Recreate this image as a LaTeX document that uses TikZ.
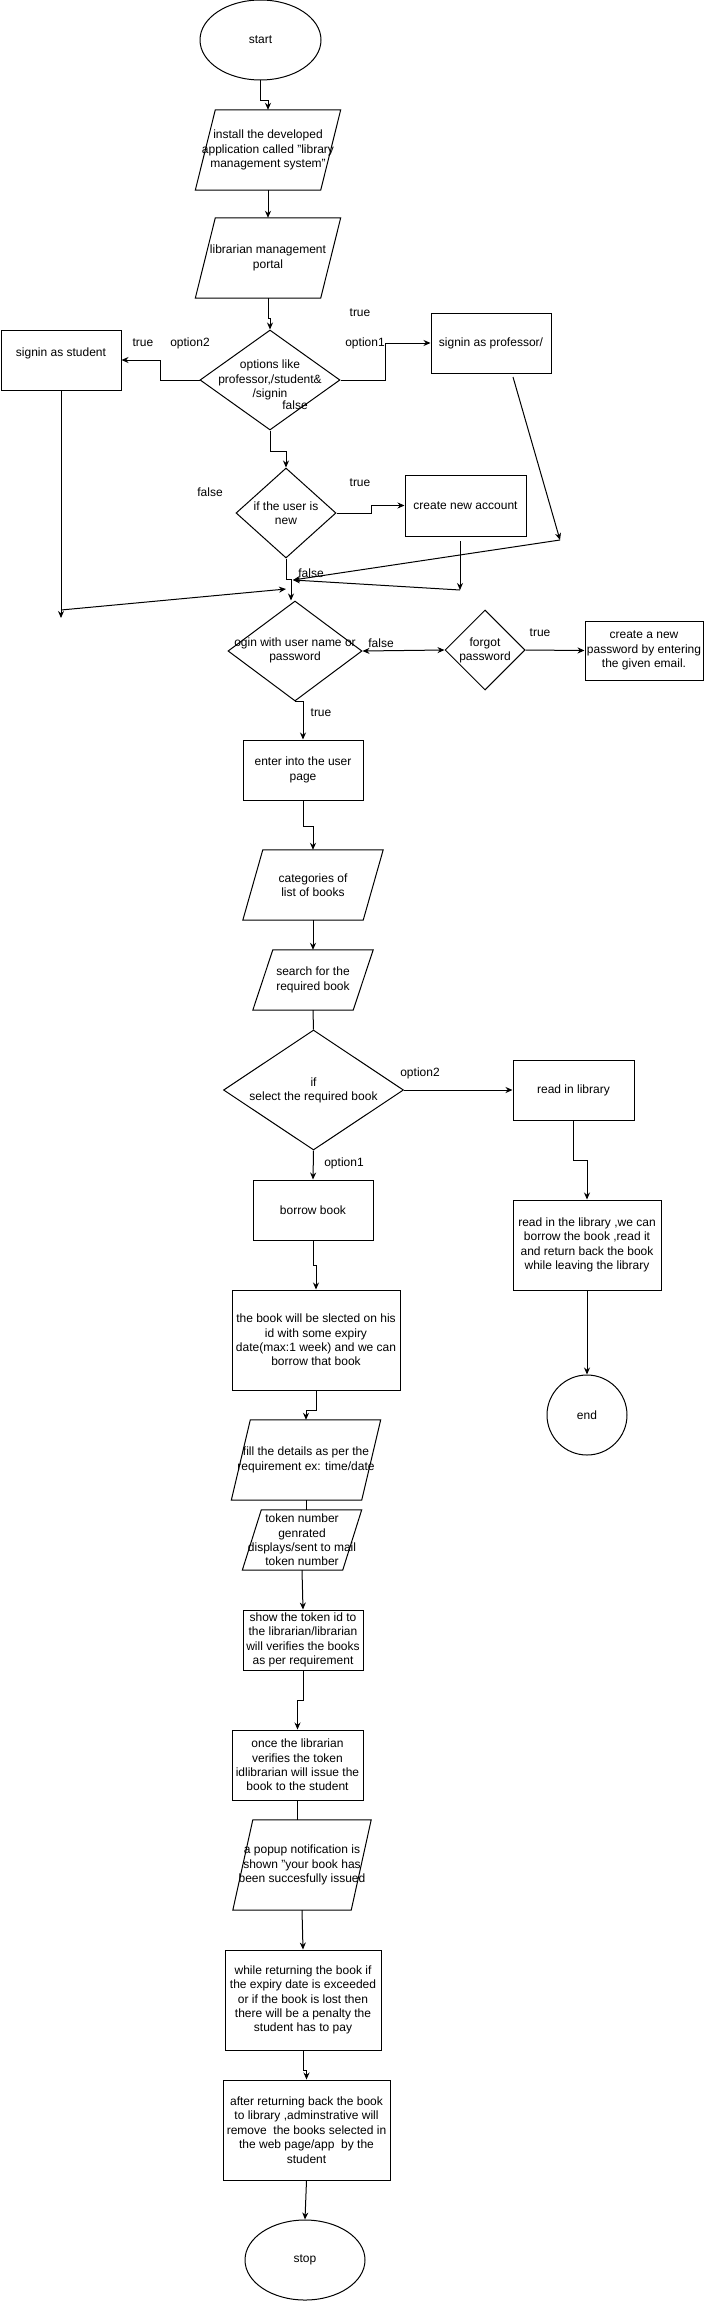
\documentclass[tikz,border=0pt]{standalone}
\usepackage{fontspec}
\setmainfont{Liberation Sans}
\usetikzlibrary{shapes.geometric,arrows.meta,calc}
\newcommand\myfs{\fontsize{12pt}{14.4pt}\selectfont}
\newcommand\mypara[6]{%
  \node[inner sep=0pt, minimum width=#4pt, minimum height=#5pt] (#1) at (#2,#3) {};
  \draw[line width=1pt, fill=white] ($(#1.north west)+(#6/2,0)$) -- ($(#1.north east)+(#6/2,0)$) -- ($(#1.south east)-(#6/2,0)$) -- ($(#1.south west)-(#6/2,0)$) -- cycle;
}
\begin{document}
\begin{tikzpicture}[x=1pt,y=-1pt,
  base/.style={draw, line width=1pt, inner sep=0pt, fill=white},
  box/.style={base, rectangle},
  ell/.style={base, ellipse},
  dia/.style={base, diamond},
  txt/.style={inner sep=0pt, align=center, font=\myfs},
  arr/.style={-{Stealth[length=7pt,width=6pt]}, line width=1pt},
  dbl/.style={{Stealth[length=7pt,width=6pt]}-{Stealth[length=7pt,width=6pt]}, line width=1pt},
  ln/.style={line width=1pt}]
\useasboundingbox (0,0) rectangle (706,2301);
\fill[white] (0,0) rectangle (706,2301);

% ---------- shapes ----------
\node[ell, minimum width=121pt, minimum height=80pt] (start) at (260.5,40) {};
\node[txt] (startt) at (start) {start};

\mypara{install}{268}{150}{125}{80}{20}
\node[txt] (installt) at (install) {install the developed\\application called "library\\management system"};

\mypara{portal}{268}{258}{125}{80}{20}
\node[txt] (portalt) at (portal) {librarian management\\portal};

\node[dia, minimum width=140pt, minimum height=100pt] (options) at (270,380) {};
\node[txt] (optionst) at (options) {options like\\professor,/student\&\\/signin};

\node[box, minimum width=120pt, minimum height=60pt] (student) at (61,360) {};
\node[txt] (studentt) at (61,353) {signin as student};

\node[box, minimum width=120pt, minimum height=60pt] (prof) at (491,343) {};
\node[txt] (proft) at (prof) {signin as professor/};

\node[dia, minimum width=100pt, minimum height=90pt] (newuser) at (286,513) {};
\node[txt] (newusert) at (newuser) {if the user is\\new};

\node[box, minimum width=121pt, minimum height=61pt] (create) at (465.5,505.5) {};
\node[txt] (createt) at (create) {create new account};

\node[dia, minimum width=134pt, minimum height=100pt] (login) at (295,651) {};
\node[txt] (logint) at (295,650.5) {ogin with user name or\\password};

\node[dia, minimum width=80pt, minimum height=80pt] (forgot) at (485,650) {};
\node[txt] (forgott) at (485,650.5) {forgot\\password};

\node[box, minimum width=118pt, minimum height=59pt] (newpass) at (644,650.5) {};
\node[txt] (newpasst) at (newpass) {create a new\\password by entering\\the given email.};

\node[box, minimum width=120pt, minimum height=60pt] (enter) at (303,770) {};
\node[txt] (entert) at (enter) {enter into the user\\page};

\mypara{cat}{313}{885}{120}{70}{20}
\node[txt] (catt) at (cat) {categories of\\list of books};

\mypara{search}{313}{980}{100}{60}{20}
\node[txt] (searcht) at (search) {search for the\\required book};

\node[dia, minimum width=180pt, minimum height=120pt] (select) at (313.5,1090) {};
\node[txt] (selectt) at (313.5,1090.5) {if\\select the required book};

\node[box, minimum width=121pt, minimum height=60pt] (read) at (573.5,1090) {};
\node[txt] (readt) at (read) {read in library};

\node[box, minimum width=148pt, minimum height=90pt] (readlib) at (587,1245) {};
\node[txt] (readlibt) at (readlib) {read in the library ,we can\\borrow the book ,read it\\and return back the book\\while leaving the library};

\node[ell, minimum width=80pt, minimum height=80pt] (endn) at (587,1415) {};
\node[txt] (endt) at (endn) {end};

\node[box, minimum width=120pt, minimum height=60pt] (borrow) at (313,1210) {};
\node[txt] (borrowt) at (borrow) {borrow book};

\node[box, minimum width=168pt, minimum height=100pt] (selected) at (316,1340) {};
\node[txt] (selectedt) at (selected) {the book will be slected on his\\id with some expiry\\date(max:1 week) and we can\\borrow that book};

\mypara{fillin}{306}{1460}{130}{80}{19}
\node[txt] (fillint) at (fillin) {fill the details as per the\\requirement ex: time/date};

\mypara{token}{302}{1540}{100}{60}{19}
\node[txt] (tokent) at (token) {token number\\genrated\\displays/sent to mail\\token number};

\node[box, minimum width=120pt, minimum height=60pt] (show) at (303,1640) {};
\node[txt] (showt) at (show) {show the token id to\\the librarian/librarian\\will verifies the books\\as per requirement};

\node[box, minimum width=131pt, minimum height=70pt] (once) at (297.5,1765) {};
\node[txt] (oncet) at (once) {once the librarian\\verifies the token\\idlibrarian will issue the\\book to the student};

\mypara{popup}{302}{1865}{118}{90}{20}
\node[txt] (popupt) at (popup) {a popup notification is\\shown "your book has\\been succesfully issued};

\node[box, minimum width=156pt, minimum height=100pt] (while) at (303,2000) {};
\node[txt] (whilet) at (while) {while returning the book if\\the expiry date is exceeded\\or if the book is lost then\\there will be a penalty the\\student has to pay};

\node[box, minimum width=167pt, minimum height=100pt] (after) at (306.5,2130) {};
\node[txt] (aftert) at (after) {after returning back the book\\to library ,adminstrative will\\remove\ \ the books selected in\\the web page/app\ \ by the\\student};

\node[ell, minimum width=120pt, minimum height=80pt] (stop) at (305,2260) {};
\node[txt] (stopt) at (stop) {stop};

% ---------- connectors ----------
\draw[arr] (start.south) -- ++(0,20) -| (install.north);
\draw[arr] (install.south) -- (portal.north);
\draw[arr] (portal.south) -- ++(0,20) -| (options.north);
\draw[arr] (options.west) -- ++(-39,0) |- (student.east);
\draw[arr] (options.east) -- ++(45,0) |- (prof.west);
\draw[arr] (options.south) -- ++(0,21) -| (newuser.north);
\draw[arr] (newuser.east) -- ++(35,0) |- (create.west);
\draw[arr] (newuser.south) -- ++(0,21) -| ([xshift=-4pt]login.north);

\coordinate (profout) at (513,377);
\coordinate (pbend) at (560,540);
\coordinate (join) at (293,580);
\draw[arr] (profout) -- (pbend);
\draw[arr] (pbend) -- (join);

\coordinate (crout) at (460,541);
\coordinate (crbend) at (460,590);
\draw[arr] (crout) -- (crbend);
\draw[arr] (crbend) -- (join);

\coordinate (stbend) at (61,618);
\coordinate (stfrom) at (61,610);
\coordinate (stjoin) at (286,589);
\draw[arr] (student.south) -- (stbend);
\draw[arr] (stfrom) -- (stjoin);

\draw[dbl] (login.east) -- (forgot.west);
\draw[arr] (forgot.east) -- (newpass.west);
\draw[arr] (login.south) -| (enter.north);
\draw[arr] (enter.south) -- ++(0,26) -| (cat.north);
\draw[arr] (cat.south) -- (search.north);
\draw[ln] (search.south) -- (select.north);
\draw[arr] (select.east) -- (read.west);
\draw[arr] (select.south) -- (borrow.north);
\draw[arr] (read.south) -- ++(0,40) -| (readlib.north);
\draw[arr] (readlib.south) -- (endn.north);
\draw[arr] (borrow.south) -- ++(0,25) -| (selected.north);
\draw[arr] (selected.south) -- ++(0,20) -| (fillin.north);
\draw[ln] (fillin.south) -- (fillin.south |- token.north);
\draw[arr] (token.south) -- (show.north);
\draw[arr] (show.south) -- ++(0,30) -| (once.north);
\draw[ln] (once.south) -- (once.south |- popup.north);
\draw[arr] (popup.south) -- (while.north);
\draw[arr] (while.south) -- ++(0,20) -| (after.north);
\draw[arr] (after.south) -- (stop.north);

% ---------- labels ----------
\node[txt] (l1) at (360,313) {true};
\node[txt] (l2) at (143,343) {true};
\node[txt] (l3) at (190,343) {option2};
\node[txt] (l4) at (365,343) {option1};
\node[txt] (l5) at (295,405) {false};
\node[txt] (l6) at (210,492) {false};
\node[txt] (l7) at (360,483) {true};
\node[txt] (l8) at (311,573) {false};
\node[txt] (l9) at (381,643) {false};
\node[txt] (l10) at (540,633) {true};
\node[txt] (l11) at (321,713) {true};
\node[txt] (l12) at (420,1073) {option2};
\node[txt] (l13) at (344,1163) {option1};
\end{tikzpicture}
\end{document}
